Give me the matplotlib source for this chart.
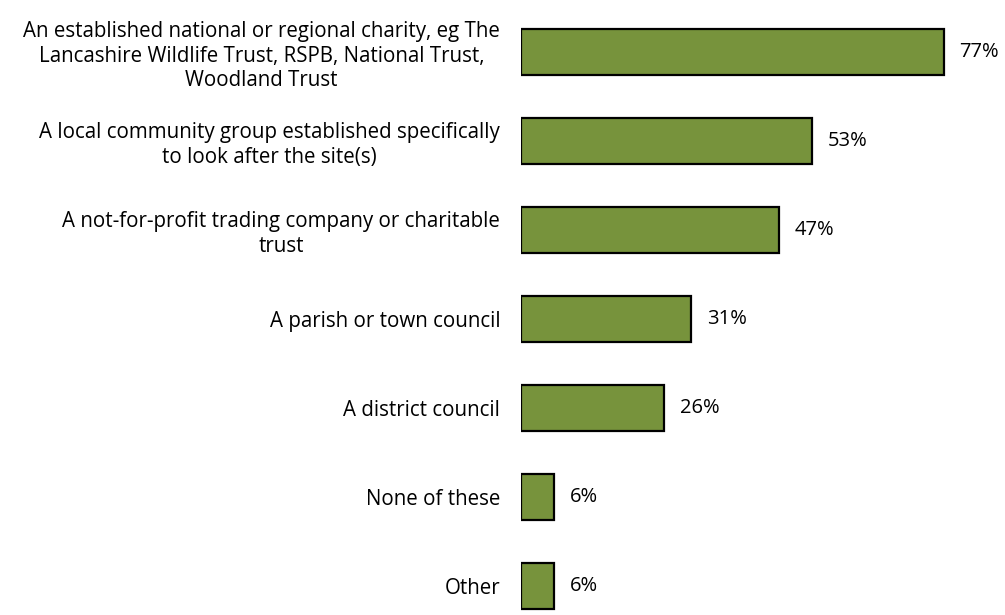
import matplotlib.pyplot as plt

categories = [
    "An established national or regional charity, eg The\nLancashire Wildlife Trust, RSPB, National Trust,\nWoodland Trust",
    "A local community group established specifically\nto look after the site(s)",
    "A not-for-profit trading company or charitable\ntrust",
    "A parish or town council",
    "A district council",
    "None of these",
    "Other",
]
values = [77, 53, 47, 31, 26, 6, 6]

plt.rcParams['font.family'] = ['Open Sans', 'DejaVu Sans']

fig = plt.figure(figsize=(10.05, 6.15), dpi=100)
ax = fig.add_axes([521 / 1005, 0, 483 / 1005, 1])

pos = list(range(len(categories)))
ax.barh(pos, values, height=0.52, color='#77933C', edgecolor='black', linewidth=1.6)

for p, v in zip(pos, values):
    ax.annotate(f"{v}%", xy=(v, p), xytext=(11.5, 0), textcoords='offset points',
                va='center', ha='left', fontsize=14.5)

ax.set_xlim(0, 88)
ax.set_ylim(6.326, -0.584)
ax.set_yticks(pos)
ax.set_yticklabels(categories, fontsize=14.8, multialignment='center', linespacing=1.2)
ax.tick_params(axis='y', length=0, pad=15)
ax.set_xticks([])
for s in ax.spines.values():
    s.set_visible(False)

fig.savefig('out.png', dpi=100)
